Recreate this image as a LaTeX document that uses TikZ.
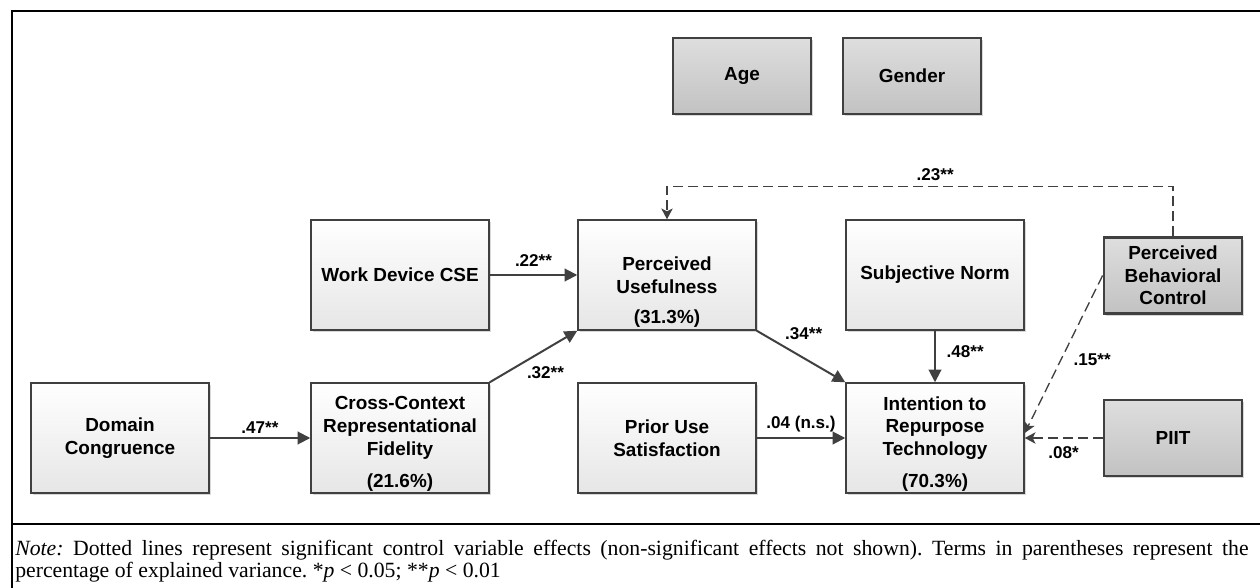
\documentclass[tikz,border=0pt]{standalone}
\usepackage{fontspec}
\setmainfont{Liberation Serif}
\newfontfamily\arialfont{Liberation Sans}
\usepackage{tikz}
\usetikzlibrary{arrows.meta, positioning, calc, shadows}
\definecolor{mydark}{RGB}{64,64,64}
\definecolor{boxtop}{RGB}{255,255,255}
\definecolor{boxbot}{RGB}{230,230,230}
\definecolor{ctrltop}{RGB}{222,222,222}
\definecolor{ctrlbot}{RGB}{194,194,194}
\definecolor{shadowgray}{RGB}{200,200,200}
\tikzset{
  latent/.style={rectangle, draw=mydark, top color=boxtop, bottom color=boxbot,
    minimum width=133pt, minimum height=82pt, align=center, inner sep=2pt,
    font=\arialfont\bfseries\fontsize{14.2}{17}\selectfont, line width=1.6pt,
    drop shadow={shadow xshift=1.5pt, shadow yshift=-1.5pt, fill=shadowgray, opacity=0.7}},
  covar/.style={latent, top color=ctrltop, bottom color=ctrlbot,
    minimum width=104pt, minimum height=57pt},
  vtext/.style={align=center, inner sep=0pt,
    font=\arialfont\bfseries\fontsize{14.2}{17}\selectfont},
  pct/.style={inner sep=0pt, font=\arialfont\bfseries\fontsize{14.2}{17}\selectfont},
  coef/.style={inner sep=1pt, text=black, font=\arialfont\bfseries\fontsize{12.8}{14}\selectfont},
  effect/.style={-{Triangle[length=9.5pt,width=9.5pt]}, line width=1.5pt, draw=mydark},
  ctrleffect/.style={-{Stealth[length=8pt,width=8.5pt,inset=2pt]}, line width=1pt,
    draw=mydark, dash pattern=on 7.5pt off 3.75pt},
  frame/.style={line width=2.2pt, color=black},
  notetext/.style={anchor=north west, inner sep=0pt, text width=925pt, align=justify,
    font=\frenchspacing\fontsize{16.3}{16.8}\selectfont}
}

\begin{document}
\begin{tikzpicture}[x=0.75pt, y=-0.75pt]
  \useasboundingbox (0,0) rectangle (1260,588);

  % Frame
  \draw[frame] (12,11) rectangle (1262,600);
  \draw[frame] (12,524) -- (1262,524);

  % Control variables
  \node[covar] (age) at (742,76) {Age};
  \node[covar] (gender) at (912,76) {Gender};
  \node[covar] (pbc) at (1173,275.5) {Perceived\\Behavioral\\Control};
  \node[covar] (piit) at (1173,438) {PIIT};

  % Constructs
  \node[latent] (wd) at (400,275) {Work Device CSE};
  \node[latent] (pu) at (667,275) {Perceived\\Usefulness};
  \node[latent] (sn) at (935,275) {Subjective Norm};
  \node[latent] (dc) at (120,438) {Domain\\Congruence};
  \node[latent] (ccrf) at (400,438) {};
  \node[latent] (pus) at (667,438) {Prior Use\\Satisfaction};
  \node[latent] (itr) at (935,438) {};

  % Texts and explained variance
  \node[vtext] (ccrftxt) at ([yshift=7.5pt]ccrf.center) {Cross-Context\\Representational\\Fidelity};
  \node[vtext] (itrtxt) at ([yshift=7.5pt]itr.center) {Intention to\\Repurpose\\Technology};
  \node[pct] (pupct) at ([yshift=9pt]pu.south) {(31.3\%)};
  \node[pct] (ccrfpct) at ([yshift=8pt]ccrf.south) {(21.6\%)};
  \node[pct] (itrpct) at ([yshift=8pt]itr.south) {(70.3\%)};

  % Paths
  \draw[effect] (dc) -- node[coef, above=2pt] {.47**} (ccrf);
  \draw[effect] (wd) -- node[coef, above=5pt] {.22**} (pu);
  \draw[effect] (ccrf.north east) -- node[coef, below=6pt, xshift=9pt] {.32**} (pu.south west);
  \draw[effect] (pu.south east) -- node[coef, above=11pt, xshift=2pt] {.34**} (itr.north west);
  \draw[effect] (sn) -- node[coef, right=7pt, yshift=4pt] {.48**} (itr);
  \draw[effect] (pus) -- node[coef, above=3pt] {.04 (n.s.)} (itr);

  % Control effects
  \draw[ctrleffect] (pbc.north) -- ++(0,-50) -| node[coef, above=2.5pt, pos=0.235] {.23**} (pu.north);
  \draw[ctrleffect] (pbc.west) -- node[coef, right=6pt, yshift=-4pt] {.15**} ([yshift=3.75pt]itr.east);
  \draw[ctrleffect] (piit) -- node[coef, below=5pt] {.08*} (itr);

  % Note
  \node[notetext] (note) at (15,540) {\textit{Note:} Dotted lines represent significant control variable effects (non-significant effects not shown). Terms in parentheses represent the\linebreak percentage of explained variance. *\textit{p}~<~0.05; **\textit{p}~<~0.01};
\end{tikzpicture}
\end{document}
